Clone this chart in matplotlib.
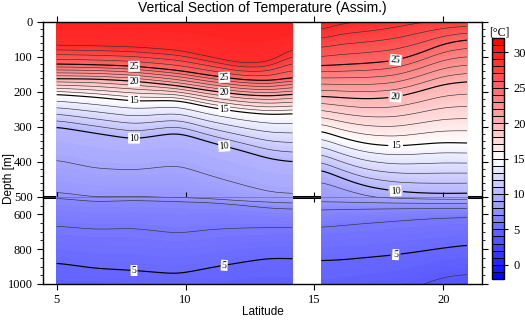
import numpy as np
import matplotlib
matplotlib.use("Agg")
import matplotlib.pyplot as plt
from matplotlib.colors import BoundaryNorm, ListedColormap, Normalize
from matplotlib.cm import ScalarMappable
from matplotlib.ticker import MultipleLocator

plt.rcParams["font.family"] = ["Liberation Serif", "DejaVu Serif"]

# ---------------------------------------------------------------------------
# Temperature section data: depth [m] of each isotherm at a set of latitudes.
# NaN means the isotherm is not present in the 0-1000 m column.
# ---------------------------------------------------------------------------
# Southern segment (5N - 14N)
south_lats = [5.0, 6.5, 8.0, 9.7, 11.0, 12.2, 13.3, 14.15]
south_surface_t = [29.6, 29.6, 29.6, 29.6, 29.7, 29.8, 29.8, 29.7]
south_bottom_t = [4.5, 4.5, 4.55, 4.6, 4.55, 4.45, 4.4, 4.45]
south_d29 = [66, 68, 71, 80, 100, 118, 114, 74]
south_d25 = [120, 122, 126, 138, 153, 165, 168, 158]
south_d20 = [162, 163, 169, 182, 197, 208, 212, 206]
south_d15 = [207, 215, 226, 224, 245, 258, 265, 262]
south_d10 = [300, 318, 335, 316, 345, 368, 392, 400]
south_d9 = [394, 418, 423, 409, 440, 465, 486, 490]
south_d8 = [486, 500, 498, 502, 510, 522, 530, 535]
south_d7 = [507, 527, 520, 527, 533, 548, 565, 570]
south_d6 = [667, 686, 680, 709, 686, 678, 676, 676]
south_d5 = [879, 910, 922, 943, 905, 875, 851, 855]
south_d4 = [np.nan] * 8

# Northern segment (15.3N - 21N)
north_lats = [15.27, 16.0, 17.0, 18.1, 19.0, 20.0, 20.93]
north_surface_t = [29.6, 29.2, 28.9, 28.5, 28.1, 27.8, 27.6]
north_bottom_t = [4.5, 4.45, 4.35, 4.25, 4.05, 3.85, 3.7]
north_d29 = [23, 5, np.nan, np.nan, np.nan, np.nan, np.nan]
north_d25 = [125, 122, 118, 111, 92, 62, 50]
north_d20 = [212, 216, 220, 216, 200, 178, 170]
north_d15 = [310, 330, 348, 355, 350, 344, 346]
north_d10 = [421, 445, 470, 483, 488, 490, 489]
north_d9 = [456, 476, 497, 507, 511, 513, 513]
north_d8 = [527, 529, 532, 535, 536, 537, 537]
north_d7 = [575, 572, 570, 568, 567, 566, 566]
north_d6 = [675, 665, 652, 640, 630, 622, 618]
north_d5 = [866, 862, 848, 833, 815, 793, 776]
north_d4 = [np.nan, np.nan, np.nan, np.nan, np.nan, 960, 944]

isotherm_levels = [29, 25, 20, 15, 10, 9, 8, 7, 6, 5, 4]
south_isotherms = [south_d29, south_d25, south_d20, south_d15, south_d10,
                   south_d9, south_d8, south_d7, south_d6, south_d5, south_d4]
north_isotherms = [north_d29, north_d25, north_d20, north_d15, north_d10,
                   north_d9, north_d8, north_d7, north_d6, north_d5, north_d4]

# Latitudes where the isotherm labels sit
south_label_lats = [8.0, 11.5]
north_label_lats = [18.15]

CBAR_MIN, CBAR_MAX = -2, 32
MAX_DEPTH = 1000
BREAK_DEPTH = 500


def smooth_columns(lats, cols, step=0.05, sigma=0.35):
    """Resample station columns onto a fine latitude grid and smooth gently."""
    fine = np.arange(lats[0], lats[-1] + step / 2, step)
    res = np.column_stack([np.interp(fine, lats, c) for c in cols.T])
    half = int(3 * sigma / step)
    k = np.exp(-0.5 * (np.arange(-half, half + 1) * step / sigma) ** 2)
    k /= k.sum()
    padded = np.pad(res, ((half, half), (0, 0)), mode="edge")
    out = np.column_stack([np.convolve(padded[:, j], k, mode="valid")
                           for j in range(res.shape[1])])
    return fine, out


def section_grid(lats, surface_t, bottom_t, isotherms):
    """Curvilinear (lat, depth) grid with temperature at each isotherm knot."""
    lats = np.asarray(lats, float)
    surface_t = np.asarray(surface_t, float)
    bottom_t = np.asarray(bottom_t, float)
    n = len(lats)
    depth_cols = [np.zeros(n)]
    temp_cols = [surface_t.copy()]
    for level, depths in zip(isotherm_levels, isotherms):
        d = np.asarray(depths, float).copy()
        t = np.full(n, float(level))
        missing = np.isnan(d)
        at_surface = missing & (surface_t < level)
        at_bottom = missing & ~at_surface
        d[at_surface] = 0.0
        t[at_surface] = surface_t[at_surface]
        d[at_bottom] = MAX_DEPTH
        t[at_bottom] = bottom_t[at_bottom]
        depth_cols.append(d)
        temp_cols.append(t)
    depth_cols.append(np.full(n, float(MAX_DEPTH)))
    temp_cols.append(bottom_t)
    D = np.column_stack(depth_cols)
    T = np.column_stack(temp_cols)
    fine, D = smooth_columns(lats, D)
    _, T = smooth_columns(lats, T)
    X = np.repeat(fine[:, None], D.shape[1], axis=1)
    return X, D, T


segments = [
    (south_lats, south_surface_t, south_bottom_t, south_isotherms, south_label_lats),
    (north_lats, north_surface_t, north_bottom_t, north_isotherms, north_label_lats),
]

cmap = plt.get_cmap("bwr")
norm = Normalize(CBAR_MIN, CBAR_MAX)
fill_levels = np.arange(CBAR_MIN, CBAR_MAX + 0.001, 0.2)
thin_levels = [v for v in range(CBAR_MIN, CBAR_MAX + 1) if v % 5]
thick_levels = [v for v in range(0, CBAR_MAX + 1, 5)]

fig = plt.figure(figsize=(5.25, 3.21), dpi=100)
ax_top = fig.add_axes([0.0819, 0.3863, 0.8362, 0.5452])
ax_bot = fig.add_axes([0.0819, 0.1153, 0.8362, 0.2710])
ax_bot.set_zorder(3)

for ax, (ymax, ymin) in ((ax_top, (BREAK_DEPTH, 0)), (ax_bot, (MAX_DEPTH, BREAK_DEPTH))):
    for lats, st, bt, iso, label_lats in segments:
        X, D, T = section_grid(lats, st, bt, iso)
        ax.contourf(X, D, T, levels=fill_levels, cmap=cmap, norm=norm,
                    antialiased=False, zorder=1)
        ax.contour(X, D, T, levels=thin_levels, colors="0.2",
                   linewidths=0.45, zorder=2)
        cs = ax.contour(X, D, T, levels=thick_levels, colors="k",
                        linewidths=0.85, zorder=2)
        # label each multiple-of-5 isotherm that lies in this panel
        positions = []
        for lev, depths in zip(isotherm_levels, iso):
            if lev % 5:
                continue
            for la in label_lats:
                dep = np.interp(la, lats, np.asarray(depths, float))
                if np.isfinite(dep) and ymin + 10 < dep < ymax - 10:
                    positions.append((la, dep))
        if positions:
            labels = ax.clabel(cs, manual=positions, inline=True, fmt="%d",
                               fontsize=7, inline_spacing=3)
            for t in labels:
                t.set_bbox(dict(facecolor="white", edgecolor="none", pad=0.7))
                t.set_fontfamily("Liberation Serif")
    ax.set_xlim(4.47, 21.5)
    ax.set_ylim(ymax, ymin)
    # break line: thick black under the data, thin grey over it
    ax.axhline(BREAK_DEPTH, color="k", lw=2.2, zorder=0.5)
    ax.axhline(BREAK_DEPTH, color="#55557a", lw=0.5, alpha=0.7, zorder=2.2)
    for s in ax.spines.values():
        s.set_linewidth(1.0)
    ax.tick_params(axis="both", which="both", direction="out", labelsize=9,
                   right=True, left=True)
    ax.tick_params(axis="both", which="major", length=4, width=0.8)
    ax.tick_params(axis="both", which="minor", length=2.2, width=0.6)

ax_top.spines["bottom"].set_visible(False)
ax_bot.spines["top"].set_visible(False)

ax_top.set_yticks(range(0, BREAK_DEPTH + 1, 100))
ax_top.yaxis.set_minor_locator(MultipleLocator(20))
ax_bot.set_yticks([600, 800, 1000])
ax_bot.yaxis.set_minor_locator(MultipleLocator(50))

xticks = [5, 10, 15, 20]
ax_top.set_xticks(xticks)
ax_top.tick_params(axis="x", top=True, bottom=False, labelbottom=False, labeltop=False)
ax_bot.set_xticks(xticks)
ax_bot.tick_params(axis="x", top=False, bottom=True)

# tick marks straddling the depth break
sec = ax_bot.secondary_xaxis("top")
sec.set_xticks(xticks)
sec.tick_params(axis="x", direction="inout", length=7, width=0.8, labeltop=False)
sec.spines["top"].set_visible(False)

sans = ["Liberation Sans", "DejaVu Sans"]
fig.text(0.5, 0.974, "Vertical Section of Temperature (Assim.)", ha="center",
         va="center", fontsize=10, family=sans)
fig.text(0.5, 0.027, "Latitude", ha="center", va="center", fontsize=8.5, family=sans)
fig.text(0.017, 0.445, "Depth [m]", ha="center", va="center", rotation=90,
         fontsize=8.5, family=sans)

# discrete colour bar, 1-degree bins
cax = fig.add_axes([0.9371, 0.1308, 0.0229, 0.7508])
bounds = np.arange(CBAR_MIN, CBAR_MAX + 1, 1)
centers = (bounds[:-1] + bounds[1:]) / 2
cb_cmap = ListedColormap(cmap(norm(centers)))
cb_norm = BoundaryNorm(bounds, cb_cmap.N)
cb = fig.colorbar(ScalarMappable(norm=cb_norm, cmap=cb_cmap), cax=cax,
                  drawedges=True, ticks=list(range(0, 31, 5)))
cb.dividers.set_linewidth(0.7)
cb.outline.set_linewidth(1.0)
cax.tick_params(labelsize=9, length=3, width=0.8, direction="out")
cax.minorticks_off()
fig.text(0.951, 0.9, "[°C]", ha="center", va="center", fontsize=8.5)

fig.savefig("out.png", dpi=100)
